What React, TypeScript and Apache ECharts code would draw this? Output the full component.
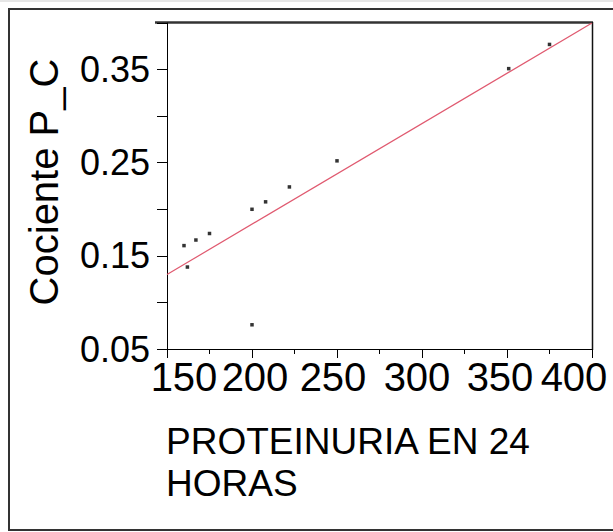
import React, { useEffect, useRef } from "react";
import * as echarts from "echarts";

// Data
const proteinuria24h: number[] = [160, 162, 167, 175, 200, 208, 222, 250, 200, 351, 375];
const cocientePC: number[] = [0.161, 0.138, 0.167, 0.174, 0.2, 0.208, 0.224, 0.252, 0.076, 0.351, 0.377];
const fitX: number[] = [150, 400];
const fitY: number[] = [0.13, 0.4];
const xTickLabels: number[] = [150, 200, 250, 300, 350, 400];
const yTickLabels: string[] = ["0.05", "0.15", "0.25", "0.35"];

const xTitle = "PROTEINURIA EN 24\nHORAS";
const yTitle = "Cociente P_C";

const FONT = "Liberation Sans, Arial, sans-serif";

export default function App() {
  const ref = useRef<HTMLDivElement>(null);

  useEffect(() => {
    if (!ref.current) return;
    const chart = echarts.init(ref.current, null, { renderer: "svg" });

    const points = proteinuria24h.map((x, i) => [x, cocientePC[i]]);
    const fit = fitX.map((x, i) => [x, fitY[i]]);

    const xShift: Record<string, number[]> = {
      "150": [0, 0, 0, 34],
      "200": [0, 0, 0, 6],
      "250": [0, 8, 0, 0],
      "300": [0, 10, 0, 0],
      "350": [0, 14, 0, 0],
      "400": [0, 36, 0, 0],
    };
    const rich: Record<string, any> = {};
    xTickLabels.forEach((v) => {
      rich["p" + v] = {
        fontFamily: FONT,
        fontSize: 40,
        color: "#000",
        padding: xShift[String(v)] || [0, 0, 0, 0],
      };
    });

    const option: any = {
      animation: false,
      backgroundColor: "#fff",
      grid: { left: 167, right: 21, top: 23, bottom: 183 },
      title: {
        text: xTitle,
        left: 166,
        top: 420,
        padding: 0,
        textStyle: {
          fontFamily: FONT,
          fontSize: 37,
          fontWeight: "normal",
          color: "#000",
          lineHeight: 42,
        },
      },
      xAxis: {
        type: "value",
        min: 150,
        max: 400,
        interval: 50,
        axisLine: { show: true, onZero: false, lineStyle: { color: "#000", width: 1 } },
        axisTick: { show: true, length: 9, lineStyle: { color: "#000", width: 1 } },
        minorTick: { show: true, splitNumber: 2, length: 5, lineStyle: { color: "#000", width: 1 } },
        splitLine: { show: false },
        axisLabel: {
          margin: 8,
          fontFamily: FONT,
          fontSize: 40,
          color: "#000",
          formatter: (v: number) => {
            const k = String(Math.round(v));
            return xTickLabels.indexOf(Math.round(v)) >= 0 ? `{p${k}|${k}}` : "";
          },
          rich,
        },
      },
      yAxis: {
        type: "value",
        min: 0.05,
        max: 0.4,
        interval: 0.05,
        name: yTitle,
        nameLocation: "middle",
        nameGap: 103,
        nameRotate: 90,
        nameTextStyle: { fontFamily: FONT, fontSize: 40, color: "#000", padding: [0, 0, 0, 8] },
        axisLine: { show: true, onZero: false, lineStyle: { color: "#000", width: 1 } },
        axisTick: { show: true, length: 10, lineStyle: { color: "#000", width: 1 } },
        splitLine: { show: false },
        axisLabel: {
          margin: 17,
          fontFamily: FONT,
          fontSize: 36,
          color: "#000",
          formatter: (v: number) => {
            const s = (Math.round(v * 100) / 100).toFixed(2);
            return yTickLabels.indexOf(s) >= 0 ? s : "";
          },
        },
      },
      graphic: [
        {
          type: "rect",
          shape: { x: 0, y: 0, width: 613, height: 2 },
          style: { fill: "#e6e6e6" },
          silent: true,
        },
        {
          type: "rect",
          shape: { x: 9, y: 9, width: 620, height: 521 },
          style: { fill: "none", stroke: "#333", lineWidth: 2 },
          silent: true,
        },
        {
          type: "line",
          shape: { x1: 155, y1: 22.5, x2: 593, y2: 22.5 },
          style: { stroke: "#333", lineWidth: 2.5 },
          silent: true,
        },
        {
          type: "line",
          shape: { x1: 592.5, y1: 22, x2: 592.5, y2: 350 },
          style: { stroke: "#111", lineWidth: 1.5 },
          silent: true,
        },
      ],
      series: [
        {
          type: "line",
          data: fit,
          showSymbol: false,
          symbol: "none",
          lineStyle: { color: "#e05a70", width: 1.2 },
          z: 2,
          silent: true,
        },
        {
          type: "scatter",
          data: points,
          symbol: "rect",
          symbolSize: 3.5,
          itemStyle: { color: "#000" },
          z: 3,
          silent: true,
        },
      ],
    };

    chart.setOption(option);
    return () => chart.dispose();
  }, []);

  return <div ref={ref} style={{ width: 613, height: 532, position: "absolute", left: 0, top: 0 }} />;
}
